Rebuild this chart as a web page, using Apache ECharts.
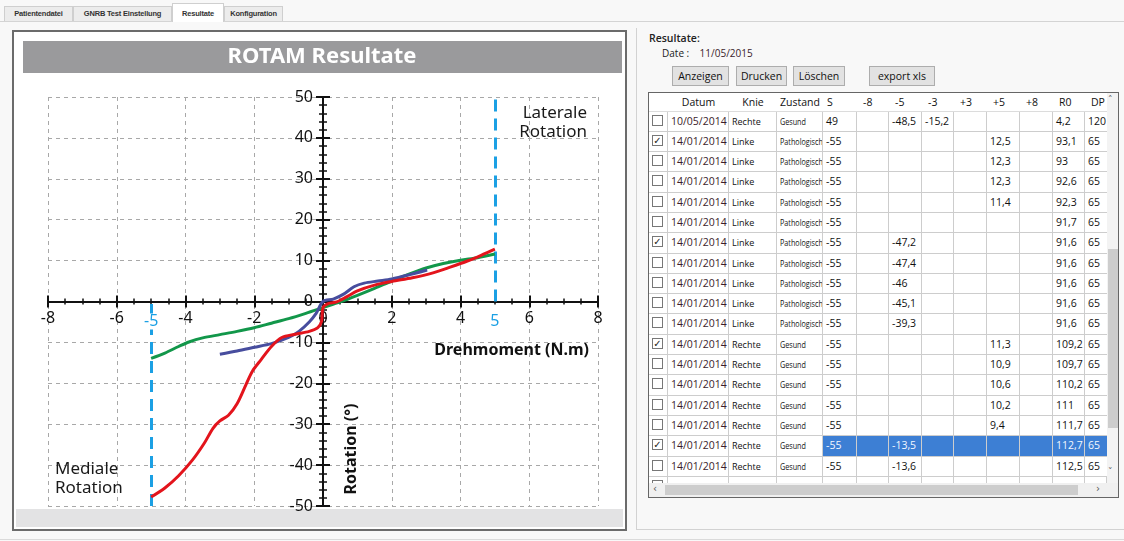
<!DOCTYPE html>
<html><head><meta charset="utf-8">
<script src="https://cdn.jsdelivr.net/npm/echarts@6/dist/echarts.min.js"></script>
<style>
html,body{margin:0;padding:0;width:1124px;height:541px;overflow:hidden;background:#f8f8f8;font-family:"Open Sans","Noto Sans",sans-serif;}
.abs{position:absolute;}
.tab{position:absolute;top:6px;height:15px;box-sizing:border-box;border:1px solid #cfcfcf;border-bottom:none;background:#ececec;font:bold 7.5px "Liberation Sans",sans-serif;color:#333;line-height:13px;text-align:center;letter-spacing:-0.2px;}
.tab.active{top:3px;height:19px;background:#fff;line-height:19px;z-index:2;}
#panelL{position:absolute;left:12px;top:30px;width:615px;height:501px;box-sizing:border-box;border:2px solid #6b6b6b;background:#fff;}
#chart{position:absolute;left:0;top:0;width:630px;height:541px;z-index:3;}
.btn{position:absolute;top:66px;height:20px;box-sizing:border-box;border:1px solid #adadad;background:#e2e2e2;font:10.5px "Open Sans",sans-serif;color:#111;line-height:18px;text-align:center;}
#tblBox{position:absolute;left:648px;top:92px;width:471px;height:406px;box-sizing:border-box;border:1px solid #666;background:#fff;overflow:hidden;}
#tbl{position:absolute;left:0;top:0;display:grid;}
.c{box-sizing:border-box;border-right:1px solid #cdcdcd;border-bottom:1px solid #cdcdcd;font:10.5px "Open Sans",sans-serif;color:#111;white-space:nowrap;overflow:hidden;padding-left:3px;line-height:19px;}
.h{box-sizing:border-box;font:10.5px "Open Sans",sans-serif;color:#111;white-space:nowrap;overflow:hidden;line-height:18px;border-bottom:1px solid #dcdcdc;}
.cb{display:inline-block;width:11px;height:11px;border:1px solid #777;background:#fff;margin:3px 0 0 1px;box-sizing:border-box;font:bold 10px "DejaVu Sans",sans-serif;line-height:9px;text-align:center;color:#222;vertical-align:top;}
.sel{background:#3d7fd4;color:#f4f8ff;}
.date{color:#3b1d2c;font-size:10.5px;}
.small{font-size:9px;}
.narrow{display:inline-block;font-size:9px;transform:scaleX(0.8);transform-origin:left center;}
</style></head>
<body>
<!-- tab bar -->
<div class="abs" style="left:0;top:21px;width:1124px;height:1px;background:#d4d4d4"></div>
<div class="tab" style="left:4px;width:69px">Patientendatei</div>
<div class="tab" style="left:73px;width:99px">GNRB Test Einstellung</div>
<div class="tab active" style="left:172px;width:52px">Resultate</div>
<div class="tab" style="left:224px;width:59px">Konfiguration</div>

<!-- left panel frame -->
<div id="panelL">
  <div class="abs" style="left:2px;bottom:2px;width:607px;height:18px;background:#e3e3e4"></div>
</div>

<!-- right panel -->
<div class="abs" style="left:636px;top:28px;width:1px;height:502px;background:#d2d2d2"></div>
<div class="abs" style="left:636px;top:529px;width:488px;height:1px;background:#d2d2d2"></div>
<div class="abs" style="left:0;top:539px;width:1124px;height:1px;background:#dadada"></div>
<div class="abs" style="left:649px;top:31px;font:600 10.5px 'Open Sans',sans-serif;color:#222">Resultate:</div>
<div class="abs" style="left:662px;top:46px;font:10px 'Open Sans',sans-serif;color:#222">Date :&nbsp;&nbsp;&nbsp; <span style="color:#3b1d2c">11/05/2015</span></div>
<div class="btn" style="left:672px;width:57px">Anzeigen</div>
<div class="btn" style="left:736px;width:51px">Drucken</div>
<div class="btn" style="left:793px;width:52px">Löschen</div>
<div class="btn" style="left:869px;width:66px">export xls</div>

<div id="tblBox"><div id="tbl"></div>
  <div class="abs" style="left:458px;top:0;width:11px;height:390px;background:#f3f3f3"></div>
  <div class="abs" style="left:459px;top:156px;width:10px;height:179px;background:#cdcdcd"></div>
  <div class="abs" style="left:459px;top:1px;font:9px 'DejaVu Sans',sans-serif;color:#555">&#x2C4;</div>
  <div class="abs" style="left:459px;top:373px;font:9px 'DejaVu Sans',sans-serif;color:#555">&#x2C5;</div>
  <div class="abs" style="left:0;top:390px;width:469px;height:14px;background:#f0f0f0"></div>
  <div class="abs" style="left:16px;top:392px;width:413px;height:10px;background:#cdcdcd"></div>
  <div class="abs" style="left:4px;top:390px;font:10px 'DejaVu Sans',sans-serif;color:#555">&#x2039;</div>
  <div class="abs" style="left:447px;top:390px;font:10px 'DejaVu Sans',sans-serif;color:#555">&#x203A;</div>
</div>

<div id="chart"></div>

<script>
// ---------------- chart data ----------------
const xMin = -8, xMax = 8, xStep = 2;
const yMin = -50, yMax = 50, yStep = 10;
const limitTorques = [-5, 5];
const limitLabels = ['-5', '5'];

const redTorque   = [-5.0,-4.6,-4.2,-3.8,-3.45,-3.2,-3.0,-2.75,-2.5,-2.25,-2.05,-1.8,-1.5,-1.2,-0.8,-0.4,-0.15,-0.04,0.0,0.15,0.4,0.7,1.0,1.5,2.0,2.6,3.2,3.7,4.2,4.6,5.0];
const redRotation = [-47.8,-45.6,-42.6,-38.8,-34.6,-31.0,-29.2,-27.8,-25.0,-20.5,-17.0,-14.2,-11.0,-8.8,-8.0,-7.3,-6.4,-4.8,-1.5,-0.5,-0.1,1.2,2.6,4.0,4.9,5.8,7.0,8.4,9.9,11.3,12.8];

const greenTorque   = [-5.0,-4.6,-4.2,-3.9,-3.5,-3.0,-2.5,-2.0,-1.5,-1.0,-0.5,0.0,0.5,1.0,1.5,2.0,2.5,3.0,3.5,4.0,4.5,5.0];
const greenRotation = [-13.9,-12.6,-11.0,-9.9,-8.9,-8.1,-7.3,-6.4,-5.3,-4.2,-2.9,-1.5,-0.1,1.5,3.2,5.0,6.7,8.2,9.3,10.1,10.7,11.6];

const blueTorque   = [-3.0,-2.5,-2.0,-1.5,-1.0,-0.7,-0.4,-0.2,0.0,0.3,0.6,0.9,1.2,1.6,2.0,2.5,3.03];
const blueRotation = [-12.9,-12.1,-11.2,-10.3,-8.8,-7.3,-5.0,-2.9,0.0,0.6,1.8,3.6,4.5,5.0,5.5,6.5,7.7];

const chartTitle = 'ROTAM Resultate';
const xAxisTitle = 'Drehmoment (N.m)';
const yAxisTitle = 'Rotation (°)';
const lateralText = 'Laterale\nRotation';
const medialText = 'Mediale\nRotation';

// ---------------- table data ----------------
const tableHeaders = ['', 'Datum', 'Knie', 'Zustand', 'S', '-8', '-5', '-3', '+3', '+5', '+8', 'R0', 'DP'];
const rowChecked = [0,1,0,0,0,0,1,0,0,0,0,1,0,0,0,0,1,0];
const rowDates = ['10/05/2014','14/01/2014','14/01/2014','14/01/2014','14/01/2014','14/01/2014','14/01/2014','14/01/2014','14/01/2014','14/01/2014','14/01/2014','14/01/2014','14/01/2014','14/01/2014','14/01/2014','14/01/2014','14/01/2014','14/01/2014'];
const rowKnee = ['Rechte','Linke','Linke','Linke','Linke','Linke','Linke','Linke','Linke','Linke','Linke','Rechte','Rechte','Rechte','Rechte','Rechte','Rechte','Rechte'];
const rowState = ['Gesund','Pathologisch','Pathologisch','Pathologisch','Pathologisch','Pathologisch','Pathologisch','Pathologisch','Pathologisch','Pathologisch','Pathologisch','Gesund','Gesund','Gesund','Gesund','Gesund','Gesund','Gesund'];
const colS  = ['49','-55','-55','-55','-55','-55','-55','-55','-55','-55','-55','-55','-55','-55','-55','-55','-55','-55'];
const colM8 = ['','','','','','','','','','','','','','','','','',''];
const colM5 = ['-48,5','','','','','','-47,2','-47,4','-46','-45,1','-39,3','','','','','','-13,5','-13,6'];
const colM3 = ['-15,2','','','','','','','','','','','','','','','','',''];
const colP3 = ['','','','','','','','','','','','','','','','','',''];
const colP5 = ['','12,5','12,3','12,3','11,4','','','','','','','11,3','10,9','10,6','10,2','9,4','',''];
const colP8 = ['','','','','','','','','','','','','','','','','',''];
const colR0 = ['4,2','93,1','93','92,6','92,3','91,7','91,6','91,6','91,6','91,6','91,6','109,2','109,7','110,2','111','111,7','112,7','112,5'];
const colDP = ['120','65','65','65','65','65','65','65','65','65','65','65','65','65','65','65','65','65'];
const selectedRow = 16;

// ---------------- table build ----------------
const colWidths = [19,61,48,46,34,32,33,32,33,33,33,32,22];
const tbl = document.getElementById('tbl');
tbl.style.gridTemplateColumns = colWidths.map(w => w + 'px').join(' ');
tbl.style.gridTemplateRows = '18.5px repeat(19, 20.3px)';
function cell(cls, html, extraStyle) {
  const d = document.createElement('div');
  d.className = cls; d.innerHTML = html;
  if (extraStyle) d.setAttribute('style', extraStyle);
  tbl.appendChild(d);
  return d;
}
tableHeaders.forEach((h, i) => {
  let st = 'text-align:left;padding-left:6px;';
  if (i >= 1 && i <= 3) st = 'text-align:center;';
  if (i === 4) st = 'text-align:left;padding-left:4px;';
  cell('h', h, st);
});
const numCols = [colS, colM8, colM5, colM3, colP3, colP5, colP8, colR0, colDP];
for (let r = 0; r < rowDates.length; r++) {
  cell('c', '<span class="cb">' + (rowChecked[r] ? '&#x2713;' : '') + '</span>', 'padding-left:2px;');
  cell('c date', rowDates[r]);
  cell('c small', rowKnee[r]);
  cell('c', '<span class="narrow">' + rowState[r] + '</span>');
  numCols.forEach((col, k) => {
    const sel = r === selectedRow ? ' sel' : '';
    cell('c' + sel, col[r], k === numCols.length - 1 ? 'border-right:none;' : '');
  });
}
// partially visible next row
cell('c', '<span class="cb"></span>', 'padding-left:2px;');
for (let k = 1; k < colWidths.length; k++) cell('c', '');

// ---------------- chart ----------------
const zip = (a, b) => a.map((v, i) => [v, b[i]]);
const chart = echarts.init(document.getElementById('chart'), null, {renderer: 'canvas'});
const FONT = '"Noto Sans", "Open Sans", sans-serif';
const G = {left: 48, top: 97, width: 550, height: 409};
// place the axes on the origin by shifting them inward (fraction of the plot where 0 lies)
const zeroFracY = (0 - yMin) / (yMax - yMin);   // from bottom
const zeroFracX = (0 - xMin) / (xMax - xMin);   // from left
const offBottom = -G.height * zeroFracY;
const offTop = -G.height * (1 - zeroFracY);
const offLeft = -G.width * zeroFracX;
const offRight = -G.width * (1 - zeroFracX);
const line = {show: true, onZero: false, lineStyle: {color: '#111', width: 2}};
const baseX = {
  type: 'value', min: xMin, max: xMax, interval: xStep, axisLine: line,
  axisTick: {show: true, length: 6, lineStyle: {color: '#111', width: 2}},
  minorTick: {show: true, splitNumber: 4, length: 3, lineStyle: {color: '#111', width: 1.5}},
};
const baseY = {
  type: 'value', min: yMin, max: yMax, interval: yStep, axisLine: line,
  axisTick: {show: true, length: 7, lineStyle: {color: '#111', width: 2}},
  minorTick: {show: true, splitNumber: 5, length: 4, lineStyle: {color: '#111', width: 1.5}},
};
const option = {
  animation: false,
  backgroundColor: 'transparent',
  grid: Object.assign({containLabel: false, outerBoundsMode: 'none'}, G),
  xAxis: [
    Object.assign({}, baseX, {
      position: 'bottom', offset: offBottom,
      axisLabel: {show: true, color: '#111', fontSize: 16, fontFamily: FONT, margin: 9},
      splitLine: {show: true, lineStyle: {color: '#a8a8a8', width: 1, type: [4, 4]}}
    }),
    Object.assign({}, baseX, {
      position: 'top', offset: offTop,
      axisLabel: {show: false},
      splitLine: {show: false}
    })
  ],
  yAxis: [
    Object.assign({}, baseY, {
      position: 'left', offset: offLeft,
      axisLabel: {show: true, color: '#111', fontSize: 16, fontFamily: FONT, margin: 10},
      splitLine: {show: true, lineStyle: {color: '#a8a8a8', width: 1, type: [4, 4]}}
    }),
    Object.assign({}, baseY, {
      position: 'right', offset: offRight,
      axisLabel: {show: false},
      splitLine: {show: false}
    })
  ],
  series: [
    {
      type: 'line', name: 'green', data: zip(greenTorque, greenRotation),
      xAxisIndex: 0, yAxisIndex: 0, smooth: 0.3, showSymbol: false, z: 3,
      lineStyle: {color: '#12974a', width: 3}, itemStyle: {color: '#12974a'},
      markLine: {
        silent: true, z: 2, symbol: ['none', 'none'],
        label: {show: false},
        lineStyle: {color: '#1ba0e4', width: 3, type: [12, 7]},
        data: [
          [{coord: [limitTorques[1], 0]}, {coord: [limitTorques[1], yMax]}],
          [{coord: [limitTorques[0], yMin]}, {coord: [limitTorques[0], 0]}]
        ]
      },
      markPoint: {
        silent: true, z: 6, symbol: 'rect', symbolSize: 1,
        itemStyle: {color: 'rgba(0,0,0,0)'},
        label: {
          show: true, position: 'inside', offset: [0, 20], color: '#1ba0e4', fontSize: 16, fontFamily: FONT,
          backgroundColor: '#fff', padding: [0, 1],
          formatter: p => p.name
        },
        data: limitTorques.map((t, i) => ({coord: [t, 0], name: limitLabels[i], value: t}))
      }
    },
    {
      type: 'line', name: 'blue', data: zip(blueTorque, blueRotation),
      xAxisIndex: 0, yAxisIndex: 0, smooth: 0.3, showSymbol: false, z: 4,
      lineStyle: {color: '#474d9e', width: 3}, itemStyle: {color: '#474d9e'}
    },
    {
      type: 'line', name: 'red', data: zip(redTorque, redRotation),
      xAxisIndex: 0, yAxisIndex: 0, smooth: 0.3, showSymbol: false, z: 5,
      lineStyle: {color: '#e3141c', width: 3}, itemStyle: {color: '#e3141c'}
    }
  ],
  graphic: [
    {type: 'rect', z: 1, shape: {x: 23, y: 41, width: 599, height: 32}, style: {fill: '#9a9a9c'}},
    {type: 'text', z: 2, x: 322, y: 57, style: {text: chartTitle, fill: '#fff', font: 'bold 22px ' + FONT, align: 'center', verticalAlign: 'middle', textAlign: 'center', textVerticalAlign: 'middle'}},
    {type: 'text', z: 10, x: 587, y: 123, style: {text: lateralText, fill: '#1a1a1a', font: '17px ' + FONT, lineHeight: 19, align: 'right', verticalAlign: 'middle', textAlign: 'right', textVerticalAlign: 'middle'}},
    {type: 'text', z: 10, x: 55, y: 479, style: {text: medialText, fill: '#1a1a1a', font: '17px ' + FONT, lineHeight: 19, align: 'left', verticalAlign: 'middle', textAlign: 'left', textVerticalAlign: 'middle'}},
    {type: 'text', z: 10, x: 589, y: 350, style: {text: xAxisTitle, fill: '#111', font: 'bold 16px ' + FONT, align: 'right', verticalAlign: 'middle', textAlign: 'right', textVerticalAlign: 'middle'}},
    {type: 'text', z: 10, x: 351, y: 449, rotation: Math.PI / 2, style: {text: yAxisTitle, fill: '#111', font: 'bold 16px ' + FONT, align: 'center', verticalAlign: 'middle', textAlign: 'center', textVerticalAlign: 'middle'}}
  ]
};
chart.setOption(option);
</script>
</body></html>
